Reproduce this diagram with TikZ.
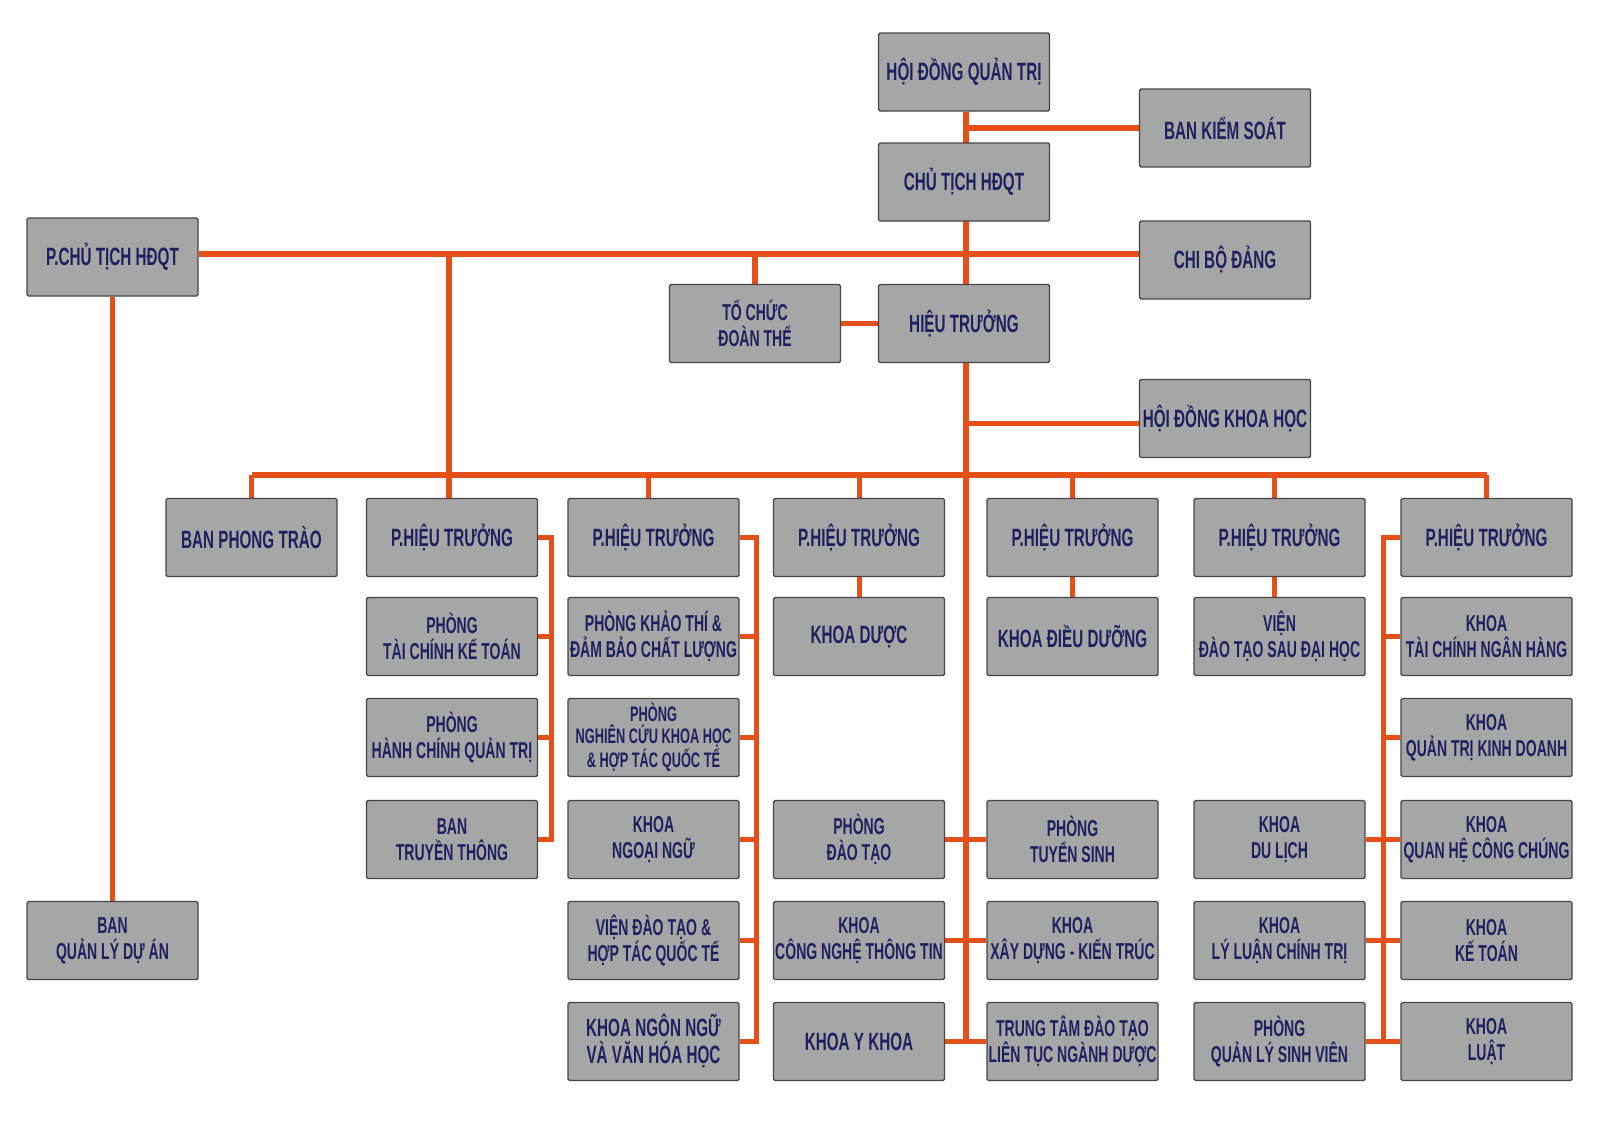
\documentclass[tikz,border=0pt]{standalone}
\usepackage{fontspec}
\usetikzlibrary{backgrounds}
\newfontfamily\orgfont{Liberation Sans}[FakeStretch=0.61]
\definecolor{boxfill}{RGB}{166,166,166}
\definecolor{boxedge}{RGB}{70,70,70}
\definecolor{navy}{RGB}{30,32,96}
\definecolor{link}{RGB}{228,80,24}
\begin{document}
\begin{tikzpicture}[x=1pt,y=-1pt,
  box/.style={draw=boxedge, fill=boxfill, line width=1.4pt, rounded corners=1.5pt,
    minimum width=171pt, minimum height=78pt, inner sep=0pt, align=center, text=navy,
    font=\orgfont\bfseries\fontsize{23}{26}\selectfont},
  big/.style={font=\orgfont\bfseries\fontsize{25}{27}\selectfont},
  three/.style={font=\orgfont\bfseries\fontsize{21}{22}\selectfont},
  conn/.style={draw=link, line width=5.5pt},
  thin/.style={draw=link, line width=5pt}]
\useasboundingbox (0,0) rectangle (1600,1127);

% upper part
\node[box,big] (hdqt) at (964,72) {HỘI ĐỒNG QUẢN TRỊ};
\node[box,big] (bks) at (1225,128) {BAN KIỂM SOÁT};
\node[box,big] (ct) at (964,182) {CHỦ TỊCH HĐQT};
\node[box,big] (cbd) at (1225,260) {CHI BỘ ĐẢNG};
\node[box,big] (ht) at (964,323.5) {HIỆU TRƯỞNG};
\node[box,big] (hdkh) at (1225,418.5) {HỘI ĐỒNG KHOA HỌC};
\node[box,big] (pct) at (112.5,257) {P.CHỦ TỊCH HĐQT};
\node[box] (tc) at (755,323.5) {TỔ CHỨC\\ĐOÀN THỂ};
\node[box] (bqlda) at (112.5,940.5) {BAN\\QUẢN LÝ DỰ ÁN};

% row 0
\node[box,big] (bpt) at (251.5,537.5) {BAN PHONG TRÀO};
\node[box,big] (p2) at (452,537.5) {P.HIỆU TRƯỞNG};
\node[box,big] (p3) at (653.5,537.5) {P.HIỆU TRƯỞNG};
\node[box,big] (p4) at (859,537.5) {P.HIỆU TRƯỞNG};
\node[box,big] (p5) at (1072.5,537.5) {P.HIỆU TRƯỞNG};
\node[box,big] (p6) at (1279.5,537.5) {P.HIỆU TRƯỞNG};
\node[box,big] (p7) at (1486.5,537.5) {P.HIỆU TRƯỞNG};

% row 1
\node[box] (tckt) at (452,636.5) {PHÒNG\\TÀI CHÍNH KẾ TOÁN};
\node[box] (ktdb) at (653.5,636.5) {PHÒNG KHẢO THÍ \&\\ĐẢM BẢO CHẤT LƯỢNG};
\node[box,big] (kduoc) at (859,636.5) {KHOA DƯỢC};
\node[box,big] (kdd) at (1072.5,636.5) {KHOA ĐIỀU DƯỠNG};
\node[box] (vsdh) at (1279.5,636.5) {VIỆN\\ĐÀO TẠO SAU ĐẠI HỌC};
\node[box] (ktcnh) at (1486.5,636.5) {KHOA\\TÀI CHÍNH NGÂN HÀNG};

% row 2
\node[box] (hcqt) at (452,737.5) {PHÒNG\\HÀNH CHÍNH QUẢN TRỊ};
\node[box,three] (nckh) at (653.5,737.5) {PHÒNG\\NGHIÊN CỨU KHOA HỌC\\\& HỢP TÁC QUỐC TẾ};
\node[box] (qtkd) at (1486.5,737.5) {KHOA\\QUẢN TRỊ KINH DOANH};

% row 3
\node[box] (btt) at (452,839.5) {BAN\\TRUYỀN THÔNG};
\node[box] (knn) at (653.5,839.5) {KHOA\\NGOẠI NGỮ};
\node[box] (pdt) at (859,839.5) {PHÒNG\\ĐÀO TẠO};
\node[box] (pts) at (1072.5,839.5) {PHÒNG\\TUYỂN SINH};
\node[box] (kdl) at (1279.5,839.5) {KHOA\\DU LỊCH};
\node[box] (kqhcc) at (1486.5,839.5) {KHOA\\QUAN HỆ CÔNG CHÚNG};

% row 4
\node[box] (vdt) at (653.5,940.5) {VIỆN ĐÀO TẠO \&\\HỢP TÁC QUỐC TẾ};
\node[box] (kcntt) at (859,940.5) {KHOA\\CÔNG NGHỆ THÔNG TIN};
\node[box] (kxd) at (1072.5,940.5) {KHOA\\XÂY DỰNG - KIẾN TRÚC};
\node[box] (kllct) at (1279.5,940.5) {KHOA\\LÝ LUẬN CHÍNH TRỊ};
\node[box] (kkt) at (1486.5,940.5) {KHOA\\KẾ TOÁN};

% row 5
\node[box,big] (knnvh) at (653.5,1041.5) {KHOA NGÔN NGỮ\\VÀ VĂN HÓA HỌC};
\node[box,big] (kyk) at (859,1041.5) {KHOA Y KHOA};
\node[box] (ttdt) at (1072.5,1041.5) {TRUNG TÂM ĐÀO TẠO\\LIÊN TỤC NGÀNH DƯỢC};
\node[box] (qlsv) at (1279.5,1041.5) {PHÒNG\\QUẢN LÝ SINH VIÊN};
\node[box] (kluat) at (1486.5,1041.5) {KHOA\\LUẬT};

% bus coordinates
\coordinate (bus1) at (0,254);
\coordinate (bus2) at (0,475);
\coordinate (trunk) at (966,0);
\coordinate (trunkend) at (966,1040);
\coordinate (busA) at (551,0);
\coordinate (busB) at (756,0);
\coordinate (busC) at (1383,0);
\coordinate (pctdrop) at (449,0);

\begin{scope}[on background layer]
\fill[white] (0,0) rectangle (1600,1127);

% connectors (upper)
\path[conn] (hdqt.south -| trunk) -- (trunkend);
\path[conn] (bks.west) -- (bks.west -| trunk);
\path[conn] (pct.east |- bus1) -- (cbd.west |- bus1);
\path[conn] (tc.north |- bus1) -- (tc.north);
\path[conn] (tc.east) -- (ht.west);
\path[conn] ([yshift=-5pt]hdkh.west) -- ([yshift=-5pt]hdkh.west -| trunk);
\path[conn] (pctdrop |- bus1) -- (pctdrop |- p2.north);
\path[conn] (pct.south) -- (bqlda.north);

% lower bus
\path[conn] (bpt.north |- bus2) -- (p7.north |- bus2);
\path[thin] (bpt.north |- bus2) -- (bpt.north);
\path[thin] ([xshift=-5pt]p3.north |- bus2) -- ([xshift=-5pt]p3.north);
\path[thin] (p4.north |- bus2) -- (p4.north);
\path[thin] (p5.north |- bus2) -- (p5.north);
\path[thin] ([xshift=-5pt]p6.north |- bus2) -- ([xshift=-5pt]p6.north);
\path[thin] (p7.north |- bus2) -- (p7.north);

% column 2 bus
\path[thin] (p2.east) -- (p2.east -| busA) -- (btt.east -| busA) -- (btt.east);
\path[thin] (tckt.east) -- (tckt.east -| busA);
\path[thin] (hcqt.east) -- (hcqt.east -| busA);

% column 3 bus
\path[thin] (p3.east) -- (p3.east -| busB) -- (knnvh.east -| busB) -- (knnvh.east);
\path[thin] (ktdb.east) -- (ktdb.east -| busB);
\path[thin] (nckh.east) -- (nckh.east -| busB);
\path[thin] (knn.east) -- (knn.east -| busB);
\path[thin] (vdt.east) -- (vdt.east -| busB);

% single drops
\path[thin] (p4.south) -- (kduoc.north);
\path[thin] (p5.south) -- (kdd.north);
\path[thin] ([xshift=-5pt]p6.south) -- ([xshift=-5pt]vsdh.north);

% across trunk
\path[thin] (pdt.east) -- (pts.west);
\path[thin] (kcntt.east) -- (kxd.west);
\path[thin] (kyk.east) -- (ttdt.west);

% column 6/7 bus
\path[thin] (p7.west) -- (p7.west -| busC) -- (kluat.west -| busC) -- (kluat.west);
\path[thin] (ktcnh.west) -- (ktcnh.west -| busC);
\path[thin] (qtkd.west) -- (qtkd.west -| busC);
\path[thin] (kdl.east) -- (kqhcc.west);
\path[thin] (kllct.east) -- (kkt.west);
\path[thin] (qlsv.east) -- (kluat.west);
\end{scope}
\end{tikzpicture}
\end{document}
